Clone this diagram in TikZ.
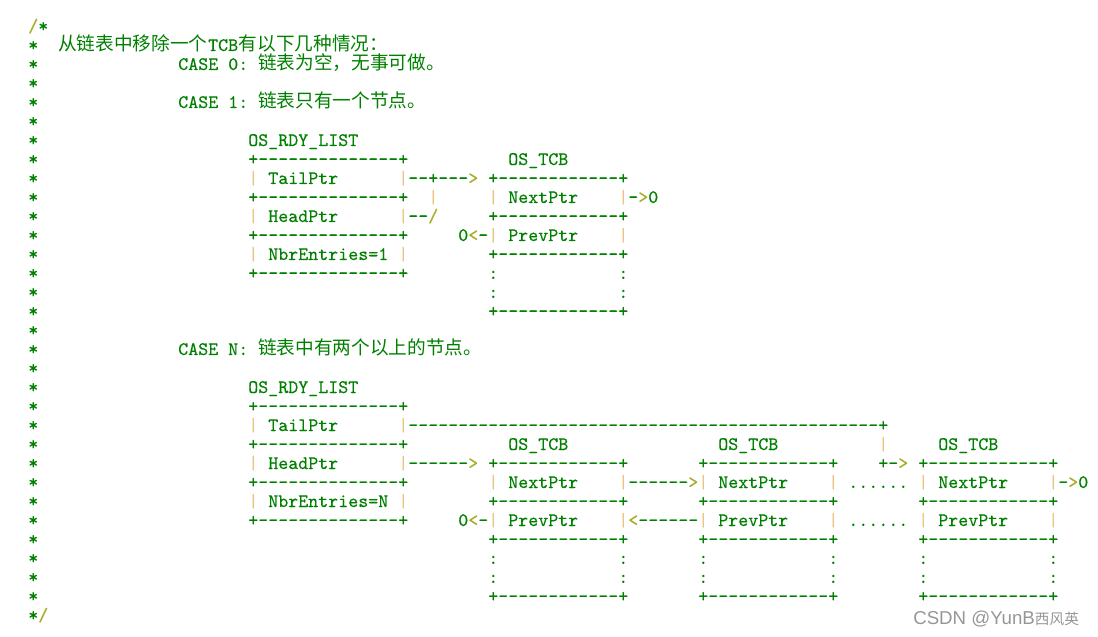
\documentclass[tikz,border=0pt]{standalone}
\usepackage{fontspec}
\usetikzlibrary{positioning}
\newfontfamily\codemono{lmmono10-regular}[Extension=.otf,Ligatures=TeXOff,FakeBold=0.4]
\newfontfamily\cjk{Noto Sans CJK SC}
\newfontfamily\marksans{Liberation Sans}
\definecolor{codegreen}{RGB}{0,128,0}
\definecolor{bartan}{RGB}{236,198,128}
\definecolor{tipolive}{RGB}{168,172,40}
\definecolor{markgray}{RGB}{150,150,150}
\newcommand\tip[1]{\textcolor{tipolive}{#1}}
\newcommand\listedge{+--------------+}
\newcommand\tcbedge{+------------+}

\begin{document}
\begin{tikzpicture}[x=7.5pt,y=-14.25pt,
  code/.style={anchor=base west,inner sep=0pt,text=codegreen,font=\codemono\fontsize{14.286pt}{14pt}\selectfont},
  bar/.style={code,text=bartan},
  hanzi/.style={anchor=base west,inner sep=0pt,text=codegreen,font=\cjk\fontsize{14pt}{14pt}\selectfont},
  wmark/.style={anchor=base west,inner sep=0pt,text=markgray,font=\marksans\fontsize{14pt}{14pt}\selectfont}]
\useasboundingbox (-2.8,-1.684) rectangle (107,31.842);

% comment frame
\node[code] (open) at (0,0) {\tip{/}*};
\foreach \r in {1,...,30}
  \node[code] (star\r) at (0,\r) {*};
\node[code] (close) at (0,31) {*\tip{/}};

% headings
\node[hanzi] (t1a) at (3,1) {从链表中移除一个};
\node[code,anchor=base west] (t1b) at (t1a.base east) {TCB};
\node[hanzi,anchor=base west] (t1c) at (t1b.base east) {有以下几种情况：};
\node[code] (c0) at (15,2) {CASE 0:};
\node[hanzi] (c0t) at (23,2) {链表为空，无事可做。};
\node[code] (c1) at (15,4) {CASE 1:};
\node[hanzi] (c1t) at (23,4) {链表只有一个节点。};
\node[code] (cn) at (15,17) {CASE N:};
\node[hanzi] (cnt) at (23,17) {链表中有两个以上的节点。};

% vertical bars
\foreach \c/\r [count=\i] in {22/8,37/8,40/9,46/9,59/9,22/10,37/10,46/11,59/11,22/12,37/12,
    22/21,37/21,85/22,22/23,37/23,22/25,37/25,46/24,59/24,67/24,80/24,89/24,102/24,
    46/26,59/26,67/26,80/26,89/26,102/26}
  \node[bar] (bar\i) at (\c,\r) {|};

% CASE 1
\node[code] (rdy1) at (22,6) {OS\_RDY\_LIST};
\foreach \r in {7,9,11,13}
  \node[code] (ledge1\r) at (22,\r) {\listedge};
\node[code] (tail1) at (24,8) {TailPtr};
\node[code] (head1) at (24,10) {HeadPtr};
\node[code] (nbr1) at (24,12) {NbrEntries=1};
\node[code] (tailto1) at (38,8) {--+---\tip{>}};
\node[code] (headto1) at (38,10) {--\tip{/}};
\node[code] (tcb1) at (48,7) {OS\_TCB};
\foreach \r in {8,10,12,15}
  \node[code] (tedge1\r) at (46,\r) {\tcbedge};
\node[code] (next1) at (48,9) {NextPtr};
\node[code] (prev1) at (48,11) {PrevPtr};
\node[code] (nil1n) at (60,9) {-\tip{>}0};
\node[code] (nil1p) at (43,11) {0\tip{<}-};
\foreach \r in {13,14}{
  \node[code] (dotl1\r) at (46,\r) {:};
  \node[code] (dotr1\r) at (59,\r) {:};
}

% CASE N
\node[code] (rdyn) at (22,19) {OS\_RDY\_LIST};
\foreach \r in {20,22,24,26}
  \node[code] (ledgen\r) at (22,\r) {\listedge};
\node[code] (tailn) at (24,21) {TailPtr};
\node[code] (headn) at (24,23) {HeadPtr};
\node[code] (nbrn) at (24,25) {NbrEntries=N};
\node[code] (tailton) at (38,21) {-----------------------------------------------+};
\node[code] (headton) at (38,23) {------\tip{>}};
\node[code] (tailin) at (85,23) {+-\tip{>}};
\foreach \c/\k in {46/a,67/b,89/c}{
  \node[code] (tcbn\k) at (\c+2,22) {OS\_TCB};
  \foreach \r in {23,25,27,30}
    \node[code] (tedge\k\r) at (\c,\r) {\tcbedge};
  \node[code] (next\k) at (\c+2,24) {NextPtr};
  \node[code] (prev\k) at (\c+2,26) {PrevPtr};
  \foreach \r in {28,29}{
    \node[code] (dotl\k\r) at (\c,\r) {:};
    \node[code] (dotr\k\r) at (\c+13,\r) {:};
  }
}
\node[code] (nextab) at (60,24) {------\tip{>}};
\node[code] (prevba) at (60,26) {\tip{<}------};
\node[code] (nextbc) at (82,24) {......};
\node[code] (prevbc) at (82,26) {......};
\node[code] (nilnn) at (103,24) {-\tip{>}0};
\node[code] (nilnp) at (43,26) {0\tip{<}-};

% watermark
\node[wmark] (wm) at (88.5,31.21) {CSDN @YunB{\cjk\fontsize{11pt}{11pt}\selectfont 西风英}};
\end{tikzpicture}
\end{document}
